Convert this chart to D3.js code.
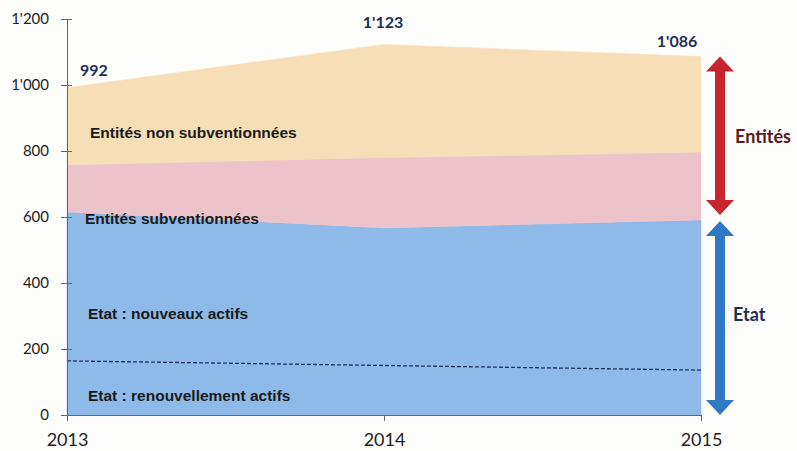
<!DOCTYPE html>
<html lang="fr">
<head>
    <meta charset="UTF-8">
    <title>Etat / Entités</title>
    <style>
        body{margin:0; background:#fdfdfb;}
        svg{display:block;}
    </style>
</head>
<body>
    <div id="chart"></div>
    <script src="https://cdn.jsdelivr.net/npm/d3@7"></script>
    <script>
        // données
        var years = [2013, 2014, 2015];
        var renouvellement = [164, 150, 136];
        var nouveaux = [451, 417, 455];
        var subventionnees = [143, 213, 206];
        var nonSubventionnees = [234, 343, 289];
        var totals = [992, 1123, 1086];
        var yTicks = [0, 200, 400, 600, 800, 1000, 1200];
        var areaLabels = ['Etat : renouvellement actifs', 'Etat : nouveaux actifs', 'Entités subventionnées', 'Entités non subventionnées'];

        var width = 797, height = 451;
        var padLeft = 67, padRight = 701, padTop = 19, padBottom = 415;

        var rows = years.map(function(y, i){
            return {year: y, ren: renouvellement[i], nou: nouveaux[i], sub: subventionnees[i], non: nonSubventionnees[i]};
        });
        var keys = ['ren', 'nou', 'sub', 'non'];
        var colors = {ren: '#8dbae9', nou: '#8dbae9', sub: '#edc3cb', non: '#f6dfb6'};

        var xScale = d3.scaleLinear().domain([2013, 2015]).range([padLeft, padRight]);
        var yScale = d3.scaleLinear().domain([0, 1200]).range([padBottom, padTop]);

        var fmt = d3.formatLocale({decimal: '.', thousands: "'", grouping: [3], currency: ['', '']}).format(',');

        var svg = d3.select('#chart').append('svg').attr('width', width).attr('height', height);

        var series = d3.stack().keys(keys)(rows);
        var area = d3.area()
            .x(function(d){ return xScale(d.data.year); })
            .y0(function(d){ return yScale(d[0]); })
            .y1(function(d){ return yScale(d[1]); });

        svg.append('g').selectAll('path')
            .data(series)
            .enter()
            .append('path')
            .attr('d', area)
            .attr('fill', function(d){ return colors[d.key]; })
            .attr('stroke', function(d){ return colors[d.key]; })
            .attr('stroke-width', 0.5);

        // ligne pointillée : renouvellement
        var line = d3.line()
            .x(function(d){ return xScale(d.data.year); })
            .y(function(d){ return yScale(d[1]); });
        svg.append('path')
            .datum(series[0])
            .attr('d', line)
            .attr('fill', 'none')
            .attr('stroke', '#1f2f5a')
            .attr('stroke-width', 1.3)
            .attr('stroke-dasharray', '4,2');

        // axes
        var yAxis = d3.axisLeft(yScale).tickValues(yTicks).tickFormat(fmt).tickSizeInner(6).tickSizeOuter(0);
        var gy = svg.append('g').attr('transform', 'translate(' + padLeft + ',0)').call(yAxis);
        gy.select('.domain').attr('stroke', '#666');
        gy.selectAll('.tick line').attr('stroke', '#666').attr('x2', 5).attr('x1', -6);
        gy.selectAll('.tick text').attr('x', -18).attr('fill', '#222')
            .style('font-family', 'Lato, sans-serif').style('font-size', '15px');

        var xAxis = d3.axisBottom(xScale).tickValues(years).tickFormat(d3.format('d')).tickSizeInner(6).tickSizeOuter(0);
        var gx = svg.append('g').attr('transform', 'translate(0,' + padBottom + ')').call(xAxis);
        gx.select('.domain').attr('stroke', '#666');
        gx.selectAll('.tick line').attr('stroke', '#666');
        gx.selectAll('.tick text').attr('y', 18).attr('fill', '#222')
            .style('font-family', 'Lato, sans-serif').style('font-size', '18px');

        // totaux
        var totalDx = [13, -1, -24];
        var totalDy = [-12, -16, -10];
        svg.append('g').selectAll('text')
            .data(totals)
            .enter()
            .append('text')
            .attr('x', function(d, i){ return xScale(years[i]) + totalDx[i]; })
            .attr('y', function(d, i){ return yScale(d) + totalDy[i]; })
            .attr('text-anchor', function(d, i){ return i == 0 ? 'start' : 'middle'; })
            .attr('fill', '#1f2f55')
            .style('font-family', 'Lato, sans-serif')
            .style('font-weight', 'bold')
            .style('font-size', '16px')
            .text(function(d){ return fmt(d); });

        // étiquettes des zones
        var labelY = [58, 306, 594, 856];
        var labelX = [88, 88, 85, 90];
        svg.append('g').selectAll('text')
            .data(areaLabels)
            .enter()
            .append('text')
            .attr('x', function(d, i){ return labelX[i]; })
            .attr('y', function(d, i){ return yScale(labelY[i]); })
            .attr('dy', '0.35em')
            .attr('fill', '#1a1a1a')
            .style('font-family', '"Liberation Sans", Arial, sans-serif')
            .style('font-weight', 'bold')
            .style('font-size', '15.5px')
            .text(function(d){ return d; });

        // flèches
        var arrowX = 720;
        var etatTop = rows[2].ren + rows[2].nou;
        var total2015 = totals[2];
        function arrow(y1, y2, color){
            var a = yScale(y1), b = yScale(y2);
            var hw = 14, hh = 15, sw = 5;
            var p = d3.path();
            p.moveTo(arrowX, a);
            p.lineTo(arrowX + hw, a + hh);
            p.lineTo(arrowX + sw, a + hh);
            p.lineTo(arrowX + sw, b - hh);
            p.lineTo(arrowX + hw, b - hh);
            p.lineTo(arrowX, b);
            p.lineTo(arrowX - hw, b - hh);
            p.lineTo(arrowX - sw, b - hh);
            p.lineTo(arrowX - sw, a + hh);
            p.lineTo(arrowX - hw, a + hh);
            p.closePath();
            svg.append('path').attr('d', p.toString()).attr('fill', color);
        }
        arrow(total2015, etatTop + 15, '#c9252e');
        arrow(etatTop - 3, 0, '#2f78c4');

        svg.append('text')
            .attr('x', 735).attr('y', 137)
            .attr('dy', '0.35em')
            .attr('fill', '#5a1a24')
            .style('font-family', 'Lato, sans-serif').style('font-weight', 'bold').style('font-size', '18px')
            .text('Entités');
        svg.append('text')
            .attr('x', 733).attr('y', 315)
            .attr('dy', '0.35em')
            .attr('fill', '#1f2f55')
            .style('font-family', 'Lato, sans-serif').style('font-weight', 'bold').style('font-size', '18px')
            .text('Etat');
    </script>
</body>
</html>
